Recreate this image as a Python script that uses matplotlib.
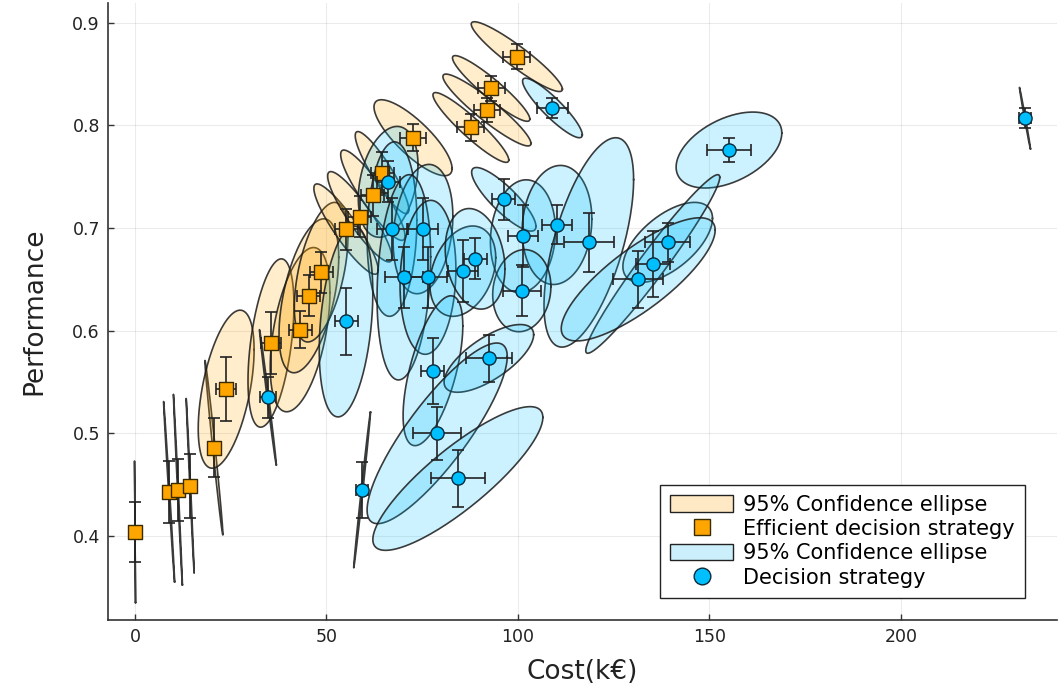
import numpy as np
import matplotlib
matplotlib.use("Agg")
import matplotlib.pyplot as plt
from matplotlib.patches import Patch
from matplotlib.lines import Line2D

# ---------------- data ----------------
# Efficient decision strategies (orange)
eff_cost = [0.0, 8.9, 11.2, 14.4, 20.6, 23.8, 35.5, 43.1, 45.4, 48.6,
            55.1, 58.7, 62.1, 64.5, 72.6, 99.7, 93.0, 91.9, 87.7]
eff_perf = [0.404, 0.443, 0.445, 0.449, 0.486, 0.543, 0.588, 0.601, 0.634, 0.657,
            0.699, 0.711, 0.732, 0.754, 0.788, 0.867, 0.836, 0.815, 0.798]
eff_xerr = [0.0, 1.0, 1.0, 1.0, 1.5, 2.6, 2.5, 3.0, 3.0, 3.0,
            3.0, 3.0, 3.0, 3.0, 3.5, 3.5, 3.5, 3.5, 3.5]
eff_yerr = [0.029, 0.030, 0.030, 0.031, 0.029, 0.031, 0.030, 0.018, 0.020, 0.020,
            0.020, 0.020, 0.020, 0.020, 0.013, 0.012, 0.012, 0.012, 0.013]
# ellipse half extents (cost, performance) and correlation
eff_sx = [0.13, 1.44, 1.17, 1.04, 2.35, 7.3, 6.0, 7.8, 7.8, 7.0,
          8.4, 8.4, 8.4, 7.0, 10.2, 11.9, 10.1, 11.5, 9.9]
eff_sy = [0.069, 0.088, 0.093, 0.085, 0.085, 0.077, 0.082, 0.080, 0.075, 0.068,
          0.044, 0.044, 0.044, 0.040, 0.037, 0.034, 0.032, 0.035, 0.034]
eff_rho = [-0.999, -0.995, -0.995, -0.995, -0.99, 0.5, 0.45, 0.45, 0.5, 0.5,
           -0.9, -0.9, -0.9, -0.9, -0.81, -0.93, -0.93, -0.93, -0.93]

# All decision strategies (blue)
dec_cost = [109.0, 232.4, 155.1, 66.1, 96.3, 67.1, 75.2, 101.3, 110.2, 118.5,
            139.1, 135.2, 131.4, 101.0, 70.2, 76.5, 85.6, 88.8, 55.1, 34.7,
            59.3, 77.8, 92.4, 78.9, 84.3]
dec_perf = [0.817, 0.807, 0.776, 0.745, 0.728, 0.699, 0.699, 0.692, 0.703, 0.686,
            0.686, 0.665, 0.650, 0.639, 0.652, 0.652, 0.658, 0.670, 0.609, 0.535,
            0.445, 0.561, 0.573, 0.500, 0.456]
dec_xerr = [4.0, 1.5, 5.7, 3.0, 3.0, 4.0, 4.0, 4.0, 3.9, 6.5,
            5.9, 4.5, 6.5, 5.0, 5.0, 5.0, 4.0, 3.0, 3.0, 2.0,
            1.5, 3.0, 6.0, 6.3, 7.0]
dec_yerr = [0.010, 0.010, 0.012, 0.020, 0.020, 0.030, 0.030, 0.030, 0.019, 0.029,
            0.019, 0.032, 0.028, 0.025, 0.030, 0.030, 0.030, 0.020, 0.033, 0.020,
            0.027, 0.032, 0.023, 0.026, 0.028]
dec_sx = [7.8, 1.44, 13.8, 7.8, 8.4, 6.5, 7.8, 8.5, 9.1, 11.7,
          11.7, 17.5, 20.1, 7.6, 7.0, 7.3, 8.6, 7.8, 7.0, 2.2,
          2.2, 7.8, 11.7, 18.3, 22.2]
dec_sy = [0.029, 0.030, 0.037, 0.054, 0.031, 0.085, 0.063, 0.055, 0.058, 0.102,
          0.039, 0.087, 0.060, 0.040, 0.100, 0.075, 0.044, 0.049, 0.093, 0.066,
          0.076, 0.073, 0.033, 0.088, 0.070]
dec_rho = [-0.9, -0.995, 0.45, 0.3, -0.85, 0.1, 0.2, 0.1, 0.1, 0.6,
           0.6, 0.97, 0.8, 0.1, 0.2, 0.1, 0.3, -0.2, 0.3, -0.995,
           0.995, 0.6, 0.7, 0.85, 0.85]

legend_labels = ["95% Confidence ellipse", "Efficient decision strategy",
                 "95% Confidence ellipse", "Decision strategy"]

# ---------------- plot ----------------
plt.rcParams['font.family'] = ['DejaVu Sans']
fig = plt.figure(figsize=(10.61, 6.86), dpi=100)
ax = fig.add_axes([0.102, 0.096, 0.894, 0.9])

orange = "#FFA500"
blue = "#00BFFF"
t = np.linspace(0, 2 * np.pi, 200)


def draw_ellipses(cx, cy, sx, sy, rho, color):
    for x0, y0, a, b, r in zip(cx, cy, sx, sy, rho):
        xs = x0 + a * np.cos(t)
        ys = y0 + b * (r * np.cos(t) + np.sqrt(1 - r * r) * np.sin(t))
        ax.fill(xs, ys, facecolor=color, alpha=0.2, edgecolor="none", zorder=2)
        ax.plot(xs, ys, color="#1a1a1a", lw=1.2, alpha=0.85, zorder=2)


draw_ellipses(eff_cost, eff_perf, eff_sx, eff_sy, eff_rho, orange)
ax.errorbar(eff_cost, eff_perf, xerr=eff_xerr, yerr=eff_yerr, fmt="none",
            ecolor="#222222", elinewidth=1.2, capsize=4, capthick=1.2, zorder=3)
ax.scatter(eff_cost, eff_perf, marker="s", s=105, c=orange,
           edgecolors="#3a2a00", linewidths=1.0, zorder=4)

draw_ellipses(dec_cost, dec_perf, dec_sx, dec_sy, dec_rho, blue)
ax.errorbar(dec_cost, dec_perf, xerr=dec_xerr, yerr=dec_yerr, fmt="none",
            ecolor="#222222", elinewidth=1.2, capsize=4, capthick=1.2, zorder=5)
ax.scatter(dec_cost, dec_perf, marker="o", s=90, c=blue,
           edgecolors="#0a2a3a", linewidths=1.0, zorder=6)

ax.set_xlim(-7.0, 240.7)
ax.set_ylim(0.318, 0.9195)
ax.set_xticks([0, 50, 100, 150, 200])
ax.set_yticks([0.4, 0.5, 0.6, 0.7, 0.8, 0.9])
ax.set_yticklabels(["0.4", "0.5", "0.6", "0.7", "0.8", "0.9"])
ax.grid(True, color="#000000", alpha=0.08, lw=0.8)
ax.set_axisbelow(True)
for s in ["top", "right"]:
    ax.spines[s].set_visible(False)
for s in ["left", "bottom"]:
    ax.spines[s].set_color("#333333")
    ax.spines[s].set_linewidth(1.2)
ax.tick_params(direction="in", length=4, width=1, labelsize=12.5, colors="#333333",
               labelcolor="#222222", pad=6)
ax.set_xlabel("Cost(k€)", fontsize=19, color="#222222", labelpad=9)
ax.set_ylabel("Performance", fontsize=19, color="#222222", labelpad=18)

handles = [
    Patch(facecolor="#FFE9C4", edgecolor="#222222", lw=1.0),
    Line2D([], [], marker="s", ls="none", markersize=12, markerfacecolor=orange,
           markeredgecolor="#3a2a00"),
    Patch(facecolor="#CCEFFC", edgecolor="#222222", lw=1.0),
    Line2D([], [], marker="o", ls="none", markersize=12, markerfacecolor=blue,
           markeredgecolor="#0a2a3a"),
]
leg = ax.legend(handles, legend_labels, loc="lower right",
                bbox_to_anchor=(0.967, 0.036), fontsize=15, frameon=True,
                fancybox=False, edgecolor="#222222", framealpha=1,
                handlelength=3.0, handleheight=0.85, handletextpad=0.5,
                labelspacing=0.2, borderpad=0.5, borderaxespad=0)
leg.get_frame().set_linewidth(1.0)

fig.savefig("out.png", dpi=100)
